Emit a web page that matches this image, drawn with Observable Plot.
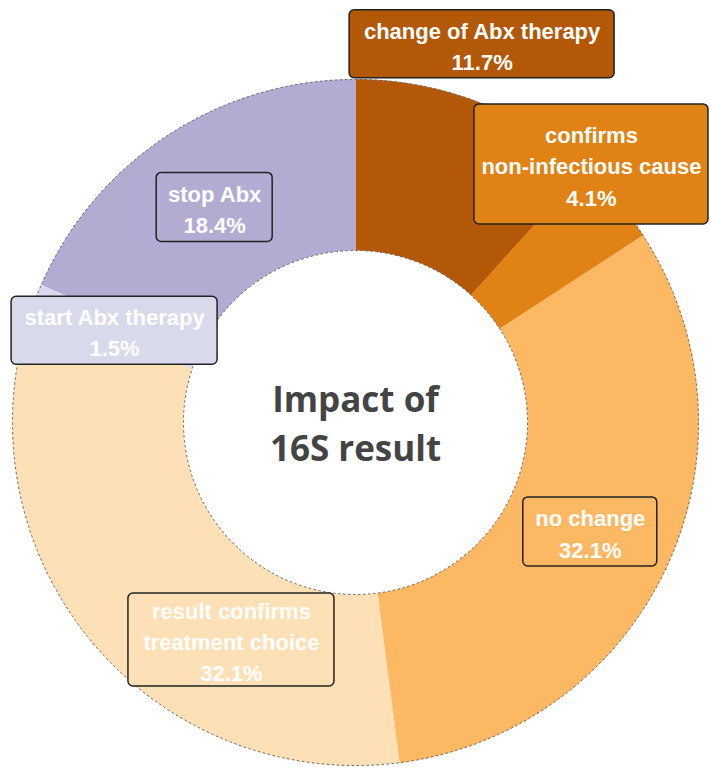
<!DOCTYPE html>
<html>
<head>
<meta charset="utf-8">
<script src="https://cdn.jsdelivr.net/npm/d3@7"></script>
<script src="https://cdn.jsdelivr.net/npm/@observablehq/plot@0.6"></script>
<style>
  html, body { margin: 0; padding: 0; background: #fff; }
  #chart svg { display: block; }
</style>
</head>
<body>
<div id="chart"></div>
<script>
// ---- data ----
const categories = ["change of Abx therapy", "confirms\nnon-infectious cause", "no change",
                    "result confirms\ntreatment choice", "start Abx therapy", "stop Abx"];
const percents = [11.7, 4.1, 32.1, 32.1, 1.5, 18.4];
const colors = ["#b35806", "#e08214", "#fdb863", "#fee0b6", "#d8daeb", "#b2abd2"];
const centerTitle = "Impact of\n16S result";

// ---- layout (pixels) ----
const W = 711, H = 768, CX = 355, CY = 422;
const R_OUT = 343, R_IN = 172;
// label box nudges from slice centroid (dx right, dy down) and box sizes
const boxLayout = [
  {dx: 34, dy: -138, w: 265, h: 68},
  {dx: 40, dy: -91, w: 234, h: 120},
  {dx: 1, dy: 1.5, w: 134, h: 69},
  {dx: 74.5, dy: 53.5, w: 206, h: 93},
  {dx: -0.5, dy: 0.5, w: 206, h: 68},
  {dx: 0, dy: 0.5, w: 116, h: 69}
];

const table = categories.map((c, i) => ({label: c, value: percents[i]}));
const arcs = d3.pie().sort(null).value(d => d.value).startAngle(0).endAngle(2 * Math.PI)(table);

// polygon points of each ring slice, data coords: x right, y up (angle clockwise from top)
const pts = [];
for (const a of arcs) {
  const n = Math.max(2, Math.ceil((a.endAngle - a.startAngle) / (Math.PI / 360)));
  for (let k = 0; k <= n; k++) {
    const t = a.startAngle + (a.endAngle - a.startAngle) * k / n;
    pts.push({label: a.data.label, x: R_OUT * Math.sin(t), y: R_OUT * Math.cos(t)});
  }
  for (let k = n; k >= 0; k--) {
    const t = a.startAngle + (a.endAngle - a.startAngle) * k / n;
    pts.push({label: a.data.label, x: R_IN * Math.sin(t), y: R_IN * Math.cos(t)});
  }
}

const rMid = (R_OUT + R_IN) / 2;
const boxes = arcs.map((a, i) => {
  const m = (a.startAngle + a.endAngle) / 2;
  const L = boxLayout[i];
  const cx = rMid * Math.sin(m) + L.dx;
  const cy = rMid * Math.cos(m) - L.dy;
  return {
    label: a.data.label,
    text: a.data.label + "\n" + a.data.value.toFixed(1) + "%",
    cx, cy,
    x1: cx - L.w / 2, x2: cx + L.w / 2,
    y1: cy - L.h / 2, y2: cy + L.h / 2
  };
});

const chart = Plot.plot({
  width: W, height: H,
  margin: 0,
  x: {domain: [-CX, W - CX], axis: null},
  y: {domain: [-(H - CY), CY], axis: null},
  color: {domain: categories, range: colors},
  style: {background: "white"},
  marks: [
    Plot.line(pts, {x: "x", y: "y", z: "label", fill: "label", stroke: "label", strokeWidth: 0.6, curve: "linear"}),
    Plot.dot([{x: 0, y: 0}], {x: "x", y: "y", r: R_OUT, fill: "none", stroke: "#666", strokeWidth: 1, strokeDasharray: "2.5,2.5"}),
    Plot.dot([{x: 0, y: 0}], {x: "x", y: "y", r: R_IN, fill: "white", stroke: "#666", strokeWidth: 1, strokeDasharray: "2.5,2.5"}),
    Plot.rect(boxes, {x1: "x1", x2: "x2", y1: "y1", y2: "y2", fill: "label", stroke: "#222", strokeWidth: 1.5, rx: 5}),
    Plot.text(boxes, {x: "cx", y: "cy", text: "text", fill: "white", fontSize: 22, fontWeight: "bold",
                      fontFamily: "'Liberation Sans', Arial, sans-serif", lineHeight: 1.42}),
    Plot.text([{x: 0, y: 2, t: centerTitle}], {x: "x", y: "y", text: "t", fill: "#444", fontSize: 35, fontWeight: "bold",
                      fontFamily: "'Open Sans', sans-serif", lineHeight: 1.4})
  ]
});
document.getElementById("chart").appendChild(chart);
</script>
</body>
</html>
